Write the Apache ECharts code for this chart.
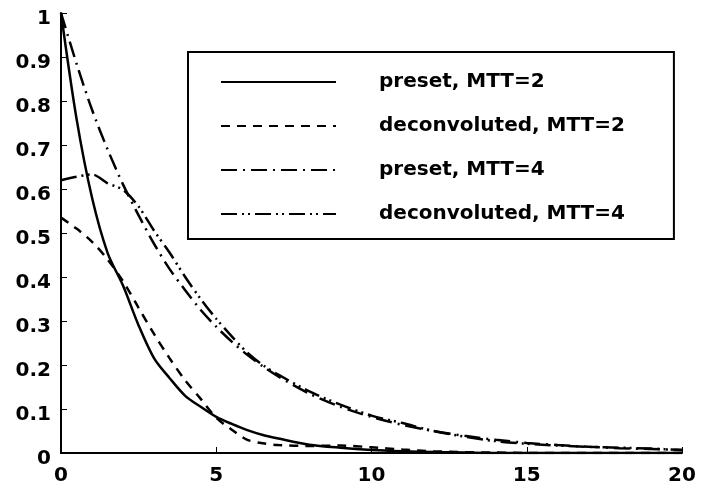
<!DOCTYPE html>
<html>
<head>
<meta charset="utf-8">
<script src="https://cdn.jsdelivr.net/npm/echarts@6/dist/echarts.min.js"></script>
<style>
html,body{margin:0;padding:0;background:#fff;}
#chart{width:710px;height:488px;}
</style>
</head>
<body>
<div id="chart"></div>
<script>
var t = [0,0.5,1,1.5,2,2.5,3,3.5,4,4.5,5,5.5,6,6.5,7,8,9,10,11,12,13,14,15,16,17,18,19,20];
var presetMTT2 = [1.0,0.76,0.58,0.455,0.38,0.29,0.215,0.17,0.13,0.105,0.082,0.066,0.052,0.041,0.033,0.019,0.012,0.007,0.004,0.002,0.001,0,0,0,0,0,0,0];
var deconvMTT2 = [0.535,0.51,0.48,0.44,0.39,0.33,0.27,0.215,0.165,0.123,0.08,0.053,0.03,0.022,0.018,0.016,0.017,0.013,0.008,0.004,0.002,0.001,0,0,0,0,0,0];
var presetMTT4 = [1.0,0.885,0.78,0.69,0.61,0.54,0.475,0.418,0.37,0.325,0.287,0.253,0.223,0.197,0.174,0.135,0.105,0.082,0.064,0.05,0.039,0.03,0.023,0.018,0.014,0.011,0.009,0.007];
var deconvMTT4 = [0.62,0.628,0.633,0.613,0.598,0.56,0.505,0.455,0.40,0.35,0.305,0.265,0.228,0.2,0.178,0.14,0.11,0.085,0.068,0.05,0.037,0.027,0.021,0.017,0.014,0.012,0.01,0.007];
var seriesNames = ['preset, MTT=2','deconvoluted, MTT=2','preset, MTT=4','deconvoluted, MTT=4'];

function pairs(vals){ return t.map(function(x,i){ return [x, vals[i]]; }); }

var font = 'DejaVu Sans';
var chart = echarts.init(document.getElementById('chart'), null, {renderer:'canvas'});
function mk(name, vals, dash){
  return {
    name: name, type: 'line', data: pairs(vals),
    symbol: 'none', showSymbol: false, smooth: 0.3,
    lineStyle: {color:'#000', width: 2.5, type: dash, cap:'butt'},
    itemStyle: {color:'#000'},
    animation: false
  };
}
chart.setOption({
  backgroundColor: '#fff',
  animation: false,
  grid: {left: 61, top: 13, width: 621, height: 440},
  xAxis: {
    type: 'value', min: 0, max: 20, interval: 5,
    axisLine: {show: true, lineStyle: {color:'#000', width: 2}},
    axisTick: {show: true, inside: true, length: 6, lineStyle: {color:'#000', width: 1}},
    splitLine: {show: false},
    axisLabel: {color:'#000', fontFamily: font, fontWeight: 'bold', fontSize: 20, margin: 13}
  },
  yAxis: {
    type: 'value', min: 0, max: 1, interval: 0.1,
    axisLine: {show: true, lineStyle: {color:'#000', width: 2}},
    axisTick: {show: true, inside: true, length: 6, lineStyle: {color:'#000', width: 1}},
    splitLine: {show: false},
    axisLabel: {color:'#000', fontFamily: font, fontWeight: 'bold', fontSize: 20, margin: 10, verticalAlign: 'top', lineHeight: 12}
  },
  legend: {
    orient: 'vertical', left: 188, top: 52,
    data: seriesNames,
    itemWidth: 115, itemHeight: 14, itemGap: 24,
    padding: [20, 49, 15, 32],
    borderColor: '#000', borderWidth: 2,
    backgroundColor: '#fff',
    itemStyle: {opacity: 0, borderWidth: 0},
    textStyle: {color:'#000', fontFamily: font, fontWeight: 'bold', fontSize: 20, padding: [0,0,0,38]},
    selectedMode: false
  },
  series: [
    mk(seriesNames[0], presetMTT2, 'solid'),
    mk(seriesNames[1], deconvMTT2, [9,7]),
    mk(seriesNames[2], presetMTT4, [16,6,2,6]),
    mk(seriesNames[3], deconvMTT4, [16,5,2,4,2,5])
  ]
});
</script>
</body>
</html>
